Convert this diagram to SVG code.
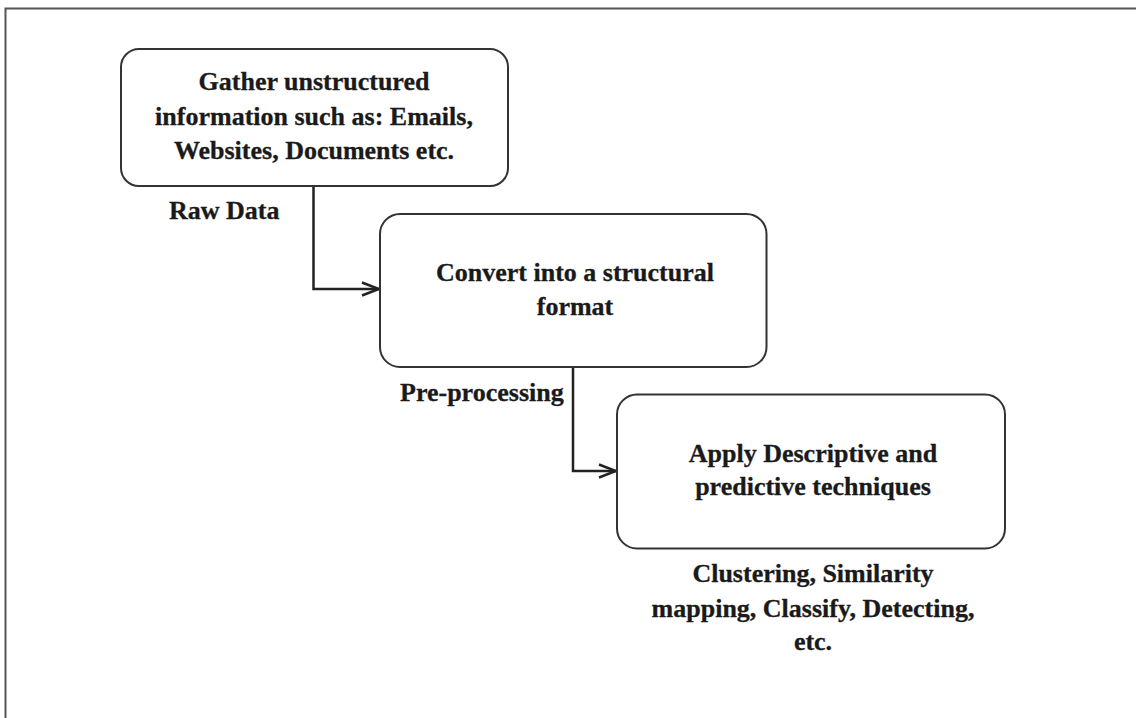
<svg xmlns="http://www.w3.org/2000/svg" width="1136" height="718" viewBox="0 0 1136 718">
  <style>
    .frame { fill: none; stroke: #555; stroke-width: 2; }
    .box { fill: #fff; stroke: #333; stroke-width: 2; }
    .link { fill: none; stroke: #222; stroke-width: 2.5; }
    .t { font-family: "Liberation Serif", "Times New Roman", serif; font-weight: bold; font-size: 26px; fill: #1a1a1a; stroke: #1a1a1a; stroke-width: 0.3; }
    .c { text-anchor: middle; }
  </style>
  <defs>
    <marker id="open-arrow" viewBox="0 0 20 16" refX="18" refY="8" markerWidth="20" markerHeight="16" markerUnits="userSpaceOnUse" orient="auto">
      <polyline points="1,1.5 18,8 1,14.5" fill="none" stroke="#222" stroke-width="2.5"/>
    </marker>
  </defs>

  <rect width="1136" height="718" fill="#fff"/>
  <!-- page frame: top and left edges -->
  <polyline class="frame" points="5.5,718 5.5,8.5 1136,8.5"/>

  <!-- connectors -->
  <g id="connectors">
    <polyline class="link" points="313.5,186 313.5,289 379,289" marker-end="url(#open-arrow)"/>
    <polyline class="link" points="573,367 573,471 616,471" marker-end="url(#open-arrow)"/>
  </g>

  <g id="gather">
    <rect class="box" x="121" y="49" width="387" height="137" rx="18"/>
    <text class="t c" x="314" y="90">Gather unstructured</text>
    <text class="t c" x="314" y="125">information such as: Emails,</text>
    <text class="t c" x="314" y="159">Websites, Documents etc.</text>
  </g>

  <g id="raw-data-label">
    <text class="t" x="169" y="219">Raw Data</text>
  </g>

  <g id="convert">
    <rect class="box" x="380" y="214" width="386.5" height="153" rx="20"/>
    <text class="t c" x="575" y="281">Convert into a structural</text>
    <text class="t c" x="575" y="315">format</text>
  </g>

  <g id="preprocessing-label">
    <text class="t" x="400" y="400.5">Pre-processing</text>
  </g>

  <g id="apply">
    <rect class="box" x="617" y="394.5" width="388" height="154" rx="20"/>
    <text class="t c" x="813" y="462">Apply Descriptive and</text>
    <text class="t c" x="813" y="495">predictive techniques</text>
  </g>

  <g id="techniques-label">
    <text class="t c" x="813" y="581.5">Clustering, Similarity</text>
    <text class="t c" x="813" y="616.5">mapping, Classify, Detecting,</text>
    <text class="t c" x="813" y="650">etc.</text>
  </g>
</svg>
